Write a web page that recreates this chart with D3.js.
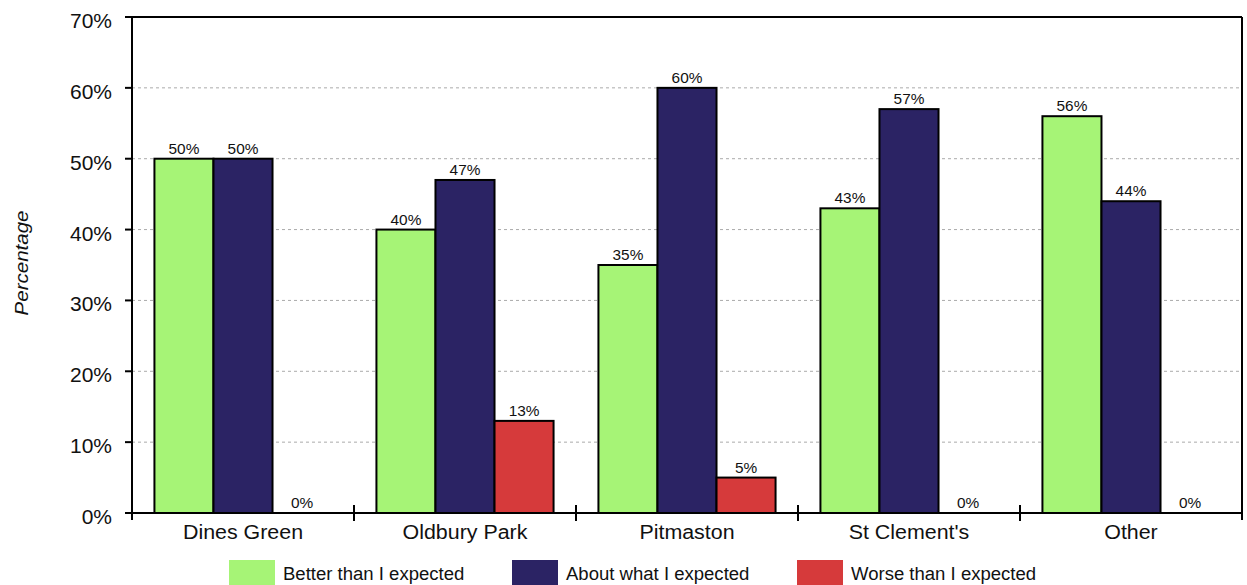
<!DOCTYPE html>
<html>
<head>
<meta charset="utf-8">
<script src="https://cdn.jsdelivr.net/npm/d3@7"></script>
<style>
  html, body { margin: 0; padding: 0; background: #fff; }
  svg { display: block; font-family: "Liberation Sans", Arial, sans-serif; }
</style>
</head>
<body>
<svg id="chart" width="1247" height="585"></svg>
<script>
// Survey responses by area
const categories = ["Dines Green", "Oldbury Park", "Pitmaston", "St Clement's", "Other"];
const seriesNames = ["Better than I expected", "About what I expected", "Worse than I expected"];
const better = [50, 40, 35, 43, 56];
const about  = [50, 47, 60, 57, 44];
const worse  = [0, 13, 5, 0, 0];
const colors = ["#a6f476", "#2b2364", "#d63a3b"];
const yTicks = [0, 10, 20, 30, 40, 50, 60, 70];

const series = [better, about, worse];

const svg = d3.select("#chart");
const margin = { left: 132, right: 5, top: 17, bottom: 72 };
const W = 1247, H = 585;
const x0 = margin.left, x1 = W - margin.right;
const yTop = margin.top, yBot = H - margin.bottom;

const x = d3.scaleBand().domain(categories).range([x0, x1]).paddingInner(0).paddingOuter(0);
const inner = d3.scaleBand().domain(d3.range(series.length))
  .range([0, x.bandwidth()]).paddingOuter(0.38).paddingInner(0);
const y = d3.scaleLinear().domain([0, 70]).range([yBot, yTop]);

// Text helper: places a label with a slight horizontal widening
function label(sel, tx, ty, size, sx, anchor) {
  return sel.append("text")
    .attr("transform", `translate(${tx},${ty}) scale(${sx},1)`)
    .attr("text-anchor", anchor || "middle")
    .attr("font-size", size)
    .attr("fill", "#111");
}

// Dashed gridlines
svg.append("g")
  .selectAll("line")
  .data(yTicks.filter(t => t > 0 && t < 70))
  .join("line")
  .attr("x1", x0).attr("x2", x1)
  .attr("y1", d => y(d)).attr("y2", d => y(d))
  .attr("stroke", "#aaa")
  .attr("stroke-width", 1)
  .attr("stroke-dasharray", "3,3");

// Frame: top and right borders
svg.append("line").attr("x1", x0 - 7).attr("x2", x1).attr("y1", yTop).attr("y2", yTop)
  .attr("stroke", "#000").attr("stroke-width", 2);
svg.append("line").attr("x1", x1).attr("x2", x1).attr("y1", yTop).attr("y2", yBot + 7)
  .attr("stroke", "#000").attr("stroke-width", 2);

// Bars with value labels
const groups = svg.append("g").selectAll("g")
  .data(categories)
  .join("g")
  .attr("transform", d => `translate(${x(d)},0)`);

groups.each(function(cat, ci) {
  const g = d3.select(this);
  series.forEach((vals, si) => {
    const v = vals[ci];
    if (v > 0) {
      g.append("rect")
        .attr("x", inner(si))
        .attr("y", y(v))
        .attr("width", inner.bandwidth())
        .attr("height", y(0) - y(v))
        .attr("fill", colors[si])
        .attr("stroke", "#000")
        .attr("stroke-width", 2);
    }
    label(g, inner(si) + inner.bandwidth() / 2, y(v) - 5, 14, 1.1).text(v + "%");
  });
});

// Y axis ticks and labels
const gy = svg.append("g");
gy.selectAll("line")
  .data(yTicks)
  .join("line")
  .attr("x1", x0 - 7).attr("x2", x0)
  .attr("y1", d => y(d)).attr("y2", d => y(d))
  .attr("stroke", "#000").attr("stroke-width", 2);
yTicks.forEach(t => {
  label(gy, 112, y(t) + 11, 20, 1.05, "end").text(t + "%");
});
svg.append("line").attr("x1", x0).attr("x2", x0).attr("y1", yTop).attr("y2", yBot + 7)
  .attr("stroke", "#000").attr("stroke-width", 2);

// X axis with ticks at category boundaries
svg.append("line").attr("x1", x0 - 7).attr("x2", x1).attr("y1", yBot).attr("y2", yBot)
  .attr("stroke", "#000").attr("stroke-width", 2);
svg.append("g").selectAll("line")
  .data(categories.slice(1))
  .join("line")
  .attr("x1", d => x(d)).attr("x2", d => x(d))
  .attr("y1", yBot - 8).attr("y2", yBot + 8)
  .attr("stroke", "#000").attr("stroke-width", 2);
const gx = svg.append("g");
categories.forEach(c => {
  label(gx, x(c) + x.bandwidth() / 2, yBot + 26, 20, 1.07).text(c);
});

// Y axis title
svg.append("text")
  .attr("transform", `translate(28,${(yTop + yBot) / 2 - 2}) rotate(-90) scale(1.08,1)`)
  .attr("text-anchor", "middle")
  .attr("font-size", 19)
  .attr("font-style", "italic")
  .attr("fill", "#111")
  .text("Percentage");

// Legend
const legendX = [229, 512, 797];
const lg = svg.append("g");
seriesNames.forEach((name, i) => {
  lg.append("rect").attr("x", legendX[i]).attr("y", 560)
    .attr("width", 46).attr("height", 25)
    .attr("fill", colors[i]);
  label(lg, legendX[i] + 54, 580, 18, 1.03, "start").text(name);
});
</script>
</body>
</html>
